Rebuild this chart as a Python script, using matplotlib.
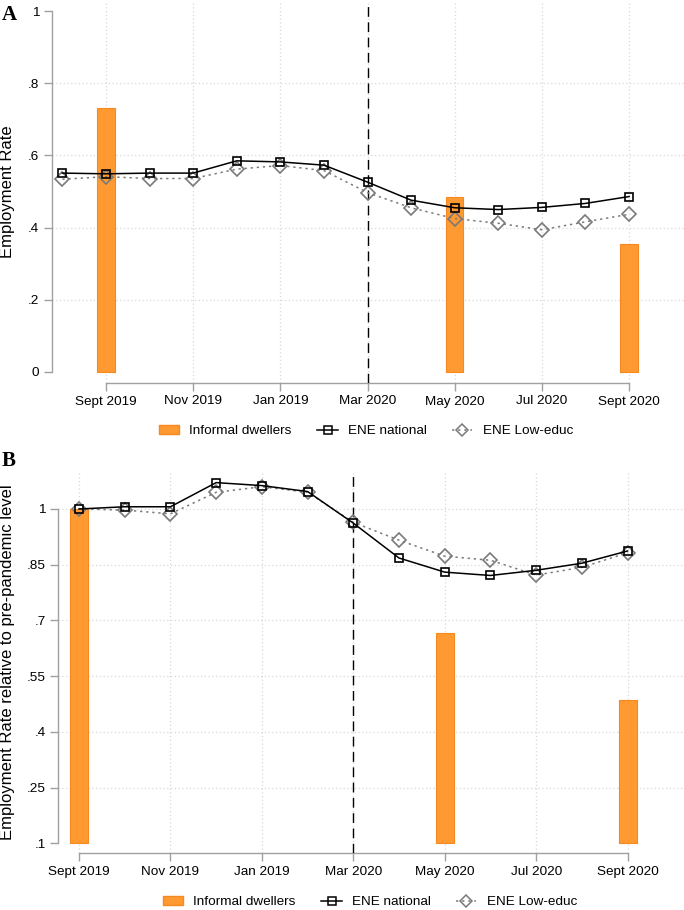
import matplotlib
matplotlib.use('Agg')
import matplotlib.pyplot as plt
from matplotlib.patches import Patch
from matplotlib.lines import Line2D

plt.rcParams['font.family'] = ['Liberation Sans', 'DejaVu Sans']

_c_bar = '#FF9A33'
_c_bar_edge = '#F5881F'
_c_axis = '#A0A0A0'
_c_grid = '#D8D8D8'
_c_low = '#7A7A7A'

months = ['Aug 2019', 'Sept 2019', 'Oct 2019', 'Nov 2019', 'Dec 2019', 'Jan 2020',
          'Feb 2020', 'Mar 2020', 'Apr 2020', 'May 2020', 'Jun 2020', 'Jul 2020',
          'Aug 2020', 'Sept 2020']
tick_months = ['Sept 2019', 'Nov 2019', 'Jan 2020', 'Mar 2020', 'May 2020', 'Jul 2020', 'Sept 2020']
tick_labels = ['Sept 2019', 'Nov 2019', 'Jan 2019', 'Mar 2020', 'May 2020', 'Jul 2020', 'Sept 2020']
covid_month = 'Mar 2020'

# panel A: employment rate levels (Aug 2019 - Sept 2020)
ene_national_a = [0.551, 0.549, 0.551, 0.551, 0.585, 0.582, 0.573, 0.526, 0.476,
                  0.455, 0.450, 0.456, 0.467, 0.486]
ene_low_a = [0.534, 0.541, 0.536, 0.536, 0.562, 0.572, 0.558, 0.497, 0.455,
             0.425, 0.412, 0.394, 0.416, 0.437]

# panel B: relative to Sept 2019 (Sept 2019 - Sept 2020)
months_b = months[1:]
ene_national_b = [1.0, 1.006, 1.006, 1.071, 1.063, 1.047, 0.962, 0.868, 0.830,
                  0.821, 0.835, 0.854, 0.887]
ene_low_b = [1.0, 0.997, 0.987, 1.045, 1.060, 1.045, 0.964, 0.916, 0.873,
             0.862, 0.822, 0.843, 0.882]

# informal dwellers survey
informal_months = ['Sept 2019', 'May 2020', 'Sept 2020']
informal_a = [0.730, 0.486, 0.355]
informal_b = [1.0, 0.666, 0.487]

yticks_a = [0, 0.2, 0.4, 0.6, 0.8, 1.0]
ylabels_a = ['0', '.2', '.4', '.6', '.8', '1']
yticks_b = [0.1, 0.25, 0.4, 0.55, 0.7, 0.85, 1.0]
ylabels_b = ['.1', '.25', '.4', '.55', '.7', '.85', '1']


def _pos(m):
    # months since Sept 2019
    return months.index(m) - 1


def _style(ax, yticks, ylabels, grid_y):
    for s in ['top', 'right']:
        ax.spines[s].set_visible(False)
    ax.spines['left'].set_bounds(yticks[0], yticks[-1])
    ax.spines['bottom'].set_bounds(_pos(tick_months[0]), _pos(tick_months[-1]))
    for s in ['left', 'bottom']:
        ax.spines[s].set_color(_c_axis)
        ax.spines[s].set_linewidth(1.0)
    ax.set_yticks(yticks)
    ax.set_yticklabels(ylabels)
    ax.set_xticks([_pos(m) for m in tick_months])
    ax.set_xticklabels(tick_labels)
    ax.tick_params(direction='out', length=6, width=1.0, color=_c_axis,
                   labelsize=9.7, pad=3)
    for m in tick_months:
        ax.axvline(_pos(m), color=_c_grid, lw=0.9, ls=(0, (1, 2)), zorder=0)
    for y in grid_y:
        ax.axhline(y, color=_c_grid, lw=0.9, ls=(0, (1, 2)), zorder=0)
    ax.axvline(_pos(covid_month), color='black', lw=1.0, ls=(0, (7, 4)), zorder=3)


def _series(ax, mlist, nat, low):
    x = [_pos(m) for m in mlist]
    ax.plot(x, low, color=_c_low, lw=1.1, ls=(0, (1.5, 2.5)), marker='D', ms=6.8,
            mfc='none', mec=_c_low, mew=1.2, zorder=4)
    ax.plot(x, nat, color='black', lw=1.1, marker='s', ms=6.3,
            mfc='none', mec='black', mew=1.2, zorder=5)


def _legend(y_px, x_px):
    handles = [Patch(facecolor=_c_bar, edgecolor=_c_bar_edge),
               Line2D([], [], color='black', lw=1.1, marker='s', ms=6, mfc='none', mew=1.1),
               Line2D([], [], color=_c_low, lw=1.1, ls=(0, (1.5, 2.5)), marker='D', ms=6.5,
                      mfc='none', mew=1.1)]
    labels = ['Informal dwellers', 'ENE national', 'ENE Low-educ']
    fig.legend(handles, labels, loc='center', bbox_to_anchor=(x_px / 684, 1 - y_px / 910),
               ncol=3, frameon=False, fontsize=9.7, handlelength=1.5,
               handletextpad=0.75, columnspacing=1.9, borderpad=0, borderaxespad=0)


fig = plt.figure(figsize=(6.84, 9.10), dpi=100)

# panel A
ax1 = fig.add_axes([51.7 / 684, (910 - 383) / 910, (684 - 51.7) / 684, 381 / 910])
ax1.bar([_pos(m) for m in informal_months], informal_a, width=0.4,
        color=_c_bar, edgecolor=_c_bar_edge, lw=0.8, zorder=2)
_series(ax1, months, ene_national_a, ene_low_a)
_style(ax1, yticks_a, ylabels_a, [0.2, 0.4, 0.6, 0.8])
ax1.set_xlim(-1.245, 13.26)
ax1.set_ylim(-0.0305, 1.025)

# panel B
ax2 = fig.add_axes([58.3 / 684, (910 - 853.3) / 910, (684 - 58.3) / 684, (853.3 - 472) / 910])
base = yticks_b[0]
ax2.bar([_pos(m) for m in informal_months], [v - base for v in informal_b], bottom=base,
        width=0.39, color=_c_bar, edgecolor=_c_bar_edge, lw=0.8, zorder=2)
_series(ax2, months_b, ene_national_b, ene_low_b)
_style(ax2, yticks_b, ylabels_b, [0.25, 0.4, 0.55, 0.7, 0.85, 1.0])
ax2.set_xlim(-0.453, 13.234)
ax2.set_ylim(0.073, 1.0996)

fig.text(8 / 684, 1 - 192 / 910, 'Employment Rate', rotation=90, ha='center', va='center',
         fontsize=12)
fig.text(8 / 684, 1 - 662.5 / 910, 'Employment Rate relative to pre-pandemic level',
         rotation=90, ha='center', va='center', fontsize=12)

fig.text(2 / 684, 1 - 15 / 910, 'A', family='Liberation Serif', weight='bold',
         fontsize=15, ha='left', va='center')
fig.text(2 / 684, 1 - 461 / 910, 'B', family='Liberation Serif', weight='bold',
         fontsize=15, ha='left', va='center')

_legend(431, 366)
_legend(902, 370)

fig.savefig('out.png', dpi=100, facecolor='white')
